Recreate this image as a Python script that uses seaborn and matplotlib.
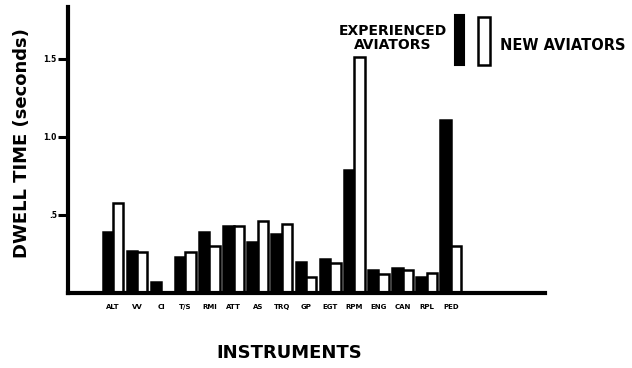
import matplotlib
matplotlib.use("Agg")
import matplotlib.pyplot as plt
import seaborn as sns
import pandas as pd
from matplotlib.patches import Rectangle

instruments = ["ALT", "VV", "CI", "T/S", "RMI", "ATT", "AS", "TRQ", "GP",
               "EGT", "RPM", "ENG", "CAN", "RPL", "PED"]
experienced = [0.39, 0.27, 0.07, 0.23, 0.39, 0.43, 0.33, 0.38, 0.20,
               0.22, 0.79, 0.15, 0.16, 0.10, 1.11]
new_aviators = [0.58, 0.26, 0.0, 0.26, 0.30, 0.43, 0.46, 0.44, 0.10,
                0.19, 1.51, 0.12, 0.15, 0.13, 0.30]
yticks = [0.5, 1.0, 1.5]
ytick_labels = [".5", "1.0", "1.5"]

df = pd.DataFrame({
    "instrument": instruments * 2,
    "dwell": experienced + new_aviators,
    "group": ["Experienced"] * len(instruments) + ["New"] * len(instruments),
})

sns.set_style("white")
plt.rcParams["font.family"] = ["DejaVu Sans"]
plt.rcParams["font.weight"] = "bold"
plt.rcParams["text.color"] = "black"
plt.rcParams["xtick.color"] = "black"
plt.rcParams["ytick.color"] = "black"

fig = plt.figure(figsize=(6.32, 3.68), dpi=100)
ax = fig.add_axes([68 / 632, 1 - 293 / 368, (545 - 68) / 632, (293 - 7) / 368])

sns.barplot(data=df, x="instrument", y="dwell", hue="group",
            palette={"Experienced": "black", "New": "white"},
            edgecolor="black", linewidth=1.8, width=0.86, gap=0,
            legend=False, ax=ax)

ax.set_xlim(-1.86, 17.9)
ax.set_ylim(0, 1.833)
ax.set_yticks(yticks)
ax.set_yticklabels(ytick_labels, fontsize=5.5, fontweight="bold", color="black")
ax.tick_params(axis="y", direction="out", length=7, width=2.2, pad=1, left=True,
               colors="black")
ax.tick_params(axis="x", length=0, pad=8, labelsize=5, bottom=False,
               labelcolor="black")
for lab in ax.get_xticklabels():
    lab.set_fontweight("bold")
ax.set_xlabel("")
ax.set_ylabel("")
for s in ["top", "right"]:
    ax.spines[s].set_visible(False)
for s in ["left", "bottom"]:
    ax.spines[s].set_linewidth(3)
    ax.spines[s].set_color("black")

fig.text(22 / 632, 1 - 143 / 368, "DWELL TIME (seconds)", rotation=90,
         ha="center", va="center", fontsize=13, fontweight="bold", color="black")
fig.text(289 / 632, 1 - 353 / 368, "INSTRUMENTS", ha="center", va="center",
         fontsize=13, fontweight="bold", color="black")

# legend
fig.text(393 / 632, 1 - 38 / 368, "EXPERIENCED\nAVIATORS", ha="center",
         va="center", fontsize=10, fontweight="bold", linespacing=0.95,
         color="black")
fig.text(500 / 632, 1 - 45 / 368, "NEW AVIATORS", ha="left", va="center",
         fontsize=10.5, fontweight="bold", color="black")
fig.patches.append(Rectangle((455 / 632, 1 - 65 / 368), 9 / 632, 50 / 368,
                             transform=fig.transFigure, facecolor="black",
                             edgecolor="black", linewidth=1.5))
fig.patches.append(Rectangle((478 / 632, 1 - 65 / 368), 12 / 632, 48 / 368,
                             transform=fig.transFigure, facecolor="white",
                             edgecolor="black", linewidth=1.8))

fig.savefig("out.png", dpi=100, facecolor="white")
